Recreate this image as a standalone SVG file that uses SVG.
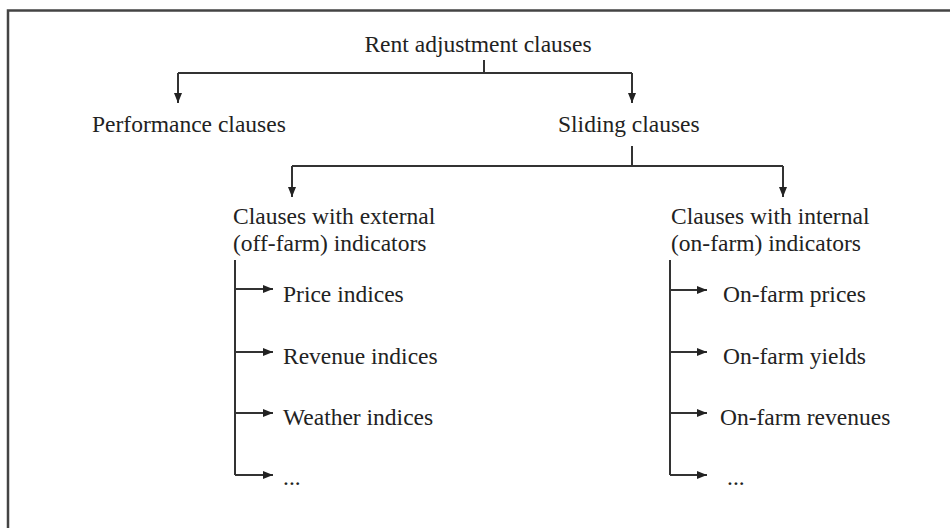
<svg xmlns="http://www.w3.org/2000/svg" width="950" height="528" viewBox="0 0 950 528">
<style>
text { font-family: "Liberation Serif", "Times New Roman", serif; font-size: 23.5px; fill: #222; }
.ln { stroke: #333; stroke-width: 2; fill: none; }
.frame { stroke: #444; stroke-width: 2.5; fill: none; }
</style>
<defs>
<marker id="ah" markerUnits="userSpaceOnUse" markerWidth="10" markerHeight="10" viewBox="0 0 10 10" refX="10" refY="5" orient="auto">
<path d="M0,1 L10,5 L0,9 Z" fill="#222"/>
</marker>
</defs>
<rect width="950" height="528" fill="#fff"/>
<path class="frame" d="M8,528 L8,10.5 L950,10.5"/>
<g id="connectors">
<path class="ln" d="M484,60 L484,73"/>
<path class="ln" d="M178,73 L632,73"/>
<path class="ln" d="M178,73 L178,103" marker-end="url(#ah)"/>
<path class="ln" d="M632,73 L632,103" marker-end="url(#ah)"/>
<path class="ln" d="M632,146 L632,166"/>
<path class="ln" d="M292,166 L783,166"/>
<path class="ln" d="M292,166 L292,197" marker-end="url(#ah)"/>
<path class="ln" d="M783,166 L783,197" marker-end="url(#ah)"/>
<path class="ln" d="M235,260 L235,475"/>
<path class="ln" d="M235,289 L273,289" marker-end="url(#ah)"/>
<path class="ln" d="M235,352 L273,352" marker-end="url(#ah)"/>
<path class="ln" d="M235,413 L273,413" marker-end="url(#ah)"/>
<path class="ln" d="M235,475 L273,475" marker-end="url(#ah)"/>
<path class="ln" d="M670,260 L670,475"/>
<path class="ln" d="M670,290 L707,290" marker-end="url(#ah)"/>
<path class="ln" d="M670,352 L707,352" marker-end="url(#ah)"/>
<path class="ln" d="M670,413 L707,413" marker-end="url(#ah)"/>
<path class="ln" d="M670,475 L707,475" marker-end="url(#ah)"/>
</g>
<g id="root"><text x="478" y="52" text-anchor="middle">Rent adjustment clauses</text></g>
<g id="performance"><text x="92" y="132">Performance clauses</text></g>
<g id="sliding"><text x="558" y="132">Sliding clauses</text></g>
<g id="external"><text x="233" y="224">Clauses with external</text><text x="233" y="251">(off-farm) indicators</text></g>
<g id="internal"><text x="671" y="224">Clauses with internal</text><text x="671" y="251">(on-farm) indicators</text></g>
<g id="ext-price"><text x="283" y="302">Price indices</text></g>
<g id="ext-revenue"><text x="283" y="364">Revenue indices</text></g>
<g id="ext-weather"><text x="283" y="425">Weather indices</text></g>
<g id="ext-more"><text x="283" y="485">...</text></g>
<g id="int-prices"><text x="723" y="302">On-farm prices</text></g>
<g id="int-yields"><text x="723" y="364">On-farm yields</text></g>
<g id="int-revenues"><text x="720" y="425">On-farm revenues</text></g>
<g id="int-more"><text x="727" y="485">...</text></g>
</svg>
